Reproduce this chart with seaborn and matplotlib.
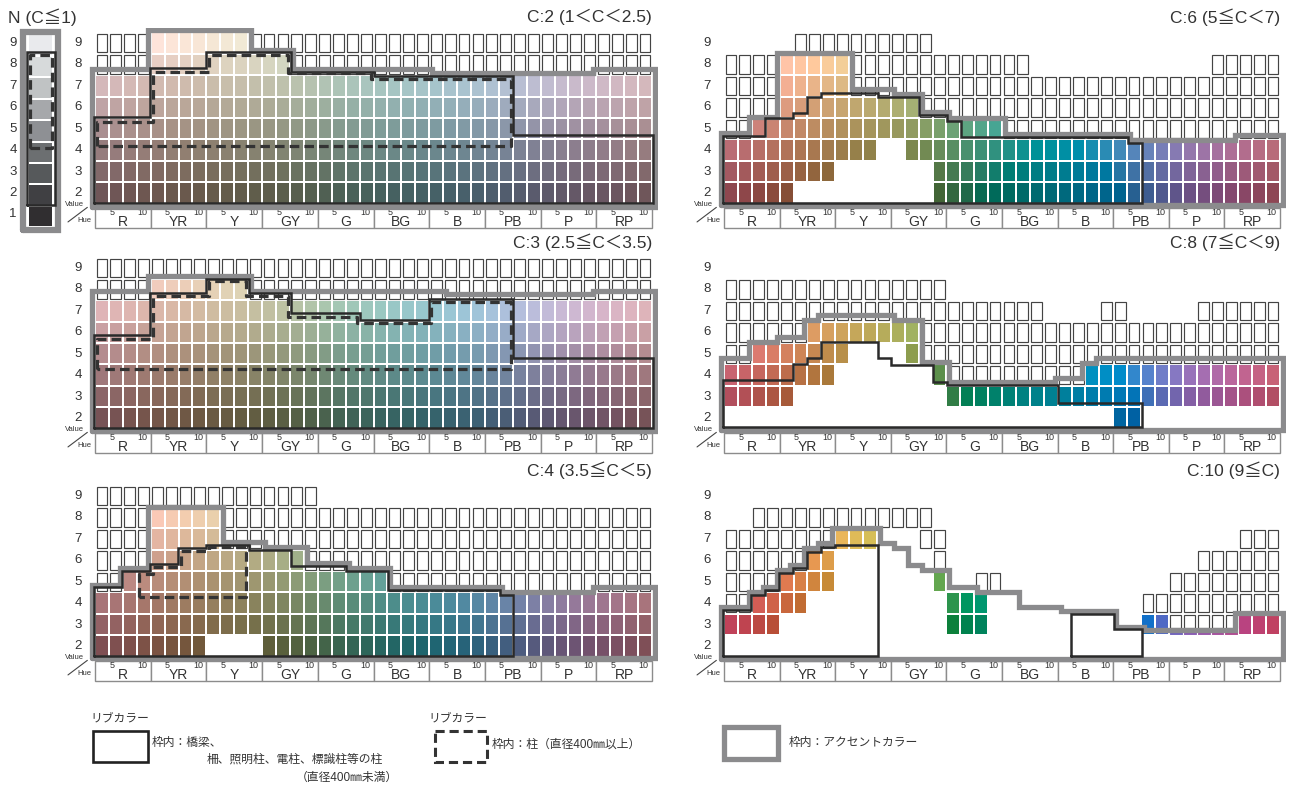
import numpy as np
import matplotlib
matplotlib.use("Agg")
import matplotlib.pyplot as plt
from matplotlib.colors import ListedColormap
from matplotlib.patches import Rectangle
import seaborn as sns

# ------------------------------
# DATA
# ------------------------------
HUES = ["R", "YR", "Y", "GY", "G", "BG", "B", "PB", "P", "RP"]
VALUES = [9, 8, 7, 6, 5, 4, 3, 2]
N_VALUES = [9, 8, 7, 6, 5, 4, 3, 2, 1]
N_COLORS = ["#e9eaed", "#d7dadb", "#c0c3c4", "#a6a8ab", "#8e9094",
            "#6c6f71", "#56595b", "#404043", "#302e30"]

# one string per value row (9 -> 2), one char per hue column (2.5R ... 10RP)
# c = colour chip, o = empty frame, h = chip partly hidden, . = nothing
C2_GRID = ["o" * 4 + "c" * 7 + "o" * 29,
           "o" * 4 + "c" * 10 + "o" * 26] + ["c" * 40] * 6
C3_GRID = ["o" * 40,
           "o" * 4 + "c" * 7 + "o" * 29] + ["c" * 40] * 6
C4_GRID = ["o" * 16 + "." * 24,
           "o" * 4 + "c" * 5 + "o" * 31,
           "o" * 4 + "c" * 5 + "o" * 31,
           "o" * 4 + "c" * 11 + "o" * 25,
           "o" * 2 + "c" * 19 + "o" * 19,
           "c" * 40,
           "c" * 40,
           "c" * 8 + "." * 4 + "c" * 28]
C6_GRID = ["." * 5 + "o" * 10 + "." * 25,
           "o" * 4 + "c" * 5 + "o" * 13 + "." * 13 + "o" * 5,
           "o" * 4 + "c" * 5 + "o" * 31,
           "o" * 4 + "c" * 10 + "o" * 26,
           "o" * 2 + "c" * 18 + "o" * 20,
           "c" * 11 + "." * 2 + "c" * 27,
           "c" * 8 + "." * 7 + "c" * 25,
           "c" * 5 + "." * 10 + "c" * 25]
C8_GRID = ["." * 40,
           "o" * 16 + "." * 24,
           "o" * 23 + "." * 4 + "oo" + "." * 5 + "o" * 6,
           "o" * 6 + "c" * 8 + "o" * 26,
           "oo" + "c" * 7 + "." * 4 + "c" + "o" * 26,
           "c" * 8 + "." * 7 + "c" + "o" * 10 + "c" * 14,
           "c" * 5 + "." * 11 + "c" * 24,
           "." * 28 + "cc" + "." * 10]
C10_GRID = ["." * 40,
            ".." + "o" * 13 + "." * 25,
            "o" * 8 + "c" * 3 + "." * 3 + "o" * 2 + "." * 21 + "o" * 3,
            "o" * 6 + "c" * 2 + "." * 7 + "o" + "." * 18 + "o" * 6,
            "o" * 4 + "c" * 4 + "." * 7 + "c" + ".." + "oo" + "." * 12 + "o" * 8,
            "oo" + "c" * 4 + "." * 10 + "c" * 3 + "." * 11 + "o" * 10,
            "c" * 4 + "." * 12 + "c" * 3 + "." * 11 + "cc" + "h" * 5 + "c" * 3,
            "." * 40]

NA = [np.nan]

# frame levels per hue column (Munsell value)
C2_ACCENT = [7.78] * 4 + [9.6] * 7 + [8.67] * 3 + [7.78] * 10 + [7.62] * 12 + [7.78] * 4
C2_SOLID = [5.55] * 4 + [7.83] * 4 + [8.57] * 6 + [7.65] * 6 + [7.48] * 10 + [4.7] * 10
C2_DASH = [5.31] * 4 + [7.65] * 4 + [8.44] * 6 + [7.62] * 6 + [7.32] * 10 + NA * 10

C3_ACCENT = [7.95] * 4 + [8.62] * 7 + [7.95] * 14 + [7.78] * 11 + [7.95] * 4
C3_SOLID = [5.87] * 4 + [7.82] * 4 + [8.5] * 3 + [7.82] * 3 + [6.92] * 5 + [6.57] * 5 + [7.54] * 6 + [4.79] * 10
C3_DASH = [5.69] * 4 + [7.7] * 4 + [8.4] * 3 + [7.7] * 3 + [6.73] * 5 + [6.42] * 5 + [7.43] * 6 + NA * 10

C4_ACCENT = [4.85] * 2 + [5.63] * 2 + [8.5] * 5 + [6.87] * 3 + [6.63] * 3 + [5.86] * 3 + [5.63] * 3 + [4.75] * 8 + [4.5] * 7 + [4.77] * 4
C4_SOLID = [4.74] * 2 + [5.51] * 2 + [5.83] * 2 + [6.56] * 2 + [6.71] * 3 + [6.48] * 3 + [5.73] * 4 + [5.51] * 3 + [4.62] * 8 + [4.4] + NA * 10
C4_DASH = NA * 3 + [5.36] + [5.67] * 2 + [6.45] * 2 + [6.63] * 3 + NA * 29

C6_ACCENT = [4.79] * 2 + [5.53] * 2 + [8.52] * 5 + [6.84] * 3 + [6.6] * 2 + [5.8] * 2 + [5.49] * 4 + [4.75] * 9 + [4.47] * 8 + [4.71] * 3
C6_SOLID = [4.66] * 3 + [5.49] * 2 + [5.72] + [6.47] + [6.65] * 4 + [6.47] * 3 + [5.64] * 2 + [5.37] + [4.62] * 12 + [4.32] + NA * 10

C8_ACCENT = [4.79] * 2 + [5.56] * 2 + [5.8] * 2 + [6.57] + [6.81] * 5 + [6.57] * 2 + [4.63] * 2 + [3.68] * 8 + [3.85] * 2 + [4.55] + [4.79] * 13
C8_SOLID = [3.77] * 5 + [4.52] + [4.79] + [5.56] * 4 + [4.79] + [4.47] * 3 + [3.7] + [3.55] * 8 + [2.72] * 6 + NA * 10

C10_ACCENT = ([3.82] * 2 + [4.53, 4.77, 5.55, 5.78, 6.56, 6.79] + [7.49] * 3 + [6.79, 6.56, 5.78]
              + [5.55] * 2 + [4.77] * 2 + [4.53] * 3 + [3.84] * 3 + [3.62] * 4 + [2.9] * 2 + [2.75] * 7 + [3.53] * 3)
C10_SOLID = [3.67] * 2 + [4.38, 4.62, 5.4, 5.63, 6.41, 6.64] + [6.71] * 3 + NA * 14 + [3.5] * 3 + [2.8] * 2 + NA * 10

ACCENT_BOTTOM = [1.35, 1.38, 1.42, 1.44, 1.42, 1.39]
SOLID_BOTTOM = [1.53, 1.52, 1.55, 1.52, 1.58, 1.53]
DASH_BOTTOM = [4.19, 4.27, 4.27]

TITLES = ["C:2 (1＜C＜2.5)", "C:3 (2.5≦C＜3.5)", "C:4 (3.5≦C＜5)",
          "C:6 (5≦C＜7)", "C:8 (7≦C＜9)", "C:10 (9≦C)"]
CHROMAS = [2, 3, 4, 6, 8, 10]

# ------------------------------
# STYLE
# ------------------------------
W, H = 1290, 787
RH = 21.43            # pixel height of one value row
ACCENT = dict(color="#8b8b8d", lw=3.8, solid_joinstyle="miter", zorder=4)
SOLID = dict(color="#2a2a2a", lw=1.8, solid_joinstyle="miter", zorder=5)
DASHED = dict(color="#333333", lw=2.3, ls=(0, (3.0, 1.6)), dash_capstyle="butt", zorder=6)
TXT = "#333333"
# Lab hue angle at Munsell hue number 0, 5, 10, ... 100 (10RP, 5R, 10R ...)
HUE_ANGLE = [10, 22, 40, 57, 73, 88, 100, 115, 135, 160, 178, 195, 210, 228,
             245, 268, 290, 312, 330, 350, 370]

sns.set_theme(style="white")
plt.rcParams['font.family'] = ['Liberation Sans', 'Noto Sans CJK JP']


def munsell_rgb(col, value, chroma):
    ang = np.radians(np.interp(2.5 * (col + 1), np.arange(0, 101, 5), HUE_ANGLE))
    L = 24 + 7.6 * value
    a, b = 5.4 * chroma * np.cos(ang), 5.4 * chroma * np.sin(ang)
    fy = (L + 16) / 116
    f = np.array([fy + a / 500, fy, fy - b / 200])
    t = np.where(f > 6 / 29, f ** 3, 3 * (6 / 29) ** 2 * (f - 4 / 29))
    xyz = t * np.array([0.95047, 1.0, 1.08883])
    m = np.array([[3.2406, -1.5372, -0.4986],
                  [-0.9689, 1.8758, 0.0415],
                  [0.0557, -0.2040, 1.0570]])
    rgb = np.clip(m @ xyz, 0, 1)
    rgb = np.where(rgb <= 0.0031308, 12.92 * rgb, 1.055 * rgb ** (1 / 2.4) - 0.055)
    return tuple(np.clip(rgb, 0, 1))


def outline(tops, bots, pad):
    # step outline round runs of columns; pad > 0 pulls the line inwards
    tops = np.asarray(tops, float)
    bots = np.broadcast_to(np.asarray(bots, float), tops.shape)
    ok = ~np.isnan(tops)
    out = []
    c = 0
    while c < len(tops):
        if not ok[c]:
            c += 1
            continue
        a = c
        while c + 1 < len(tops) and ok[c + 1]:
            c += 1
        b = c
        pts = [(a + pad, bots[a]), (a + pad, tops[a])]
        for i in range(a, b):
            t0, t1 = tops[i], tops[i + 1]
            if t1 != t0:
                xb = i + 1 + (pad if t1 > t0 else -pad)
                pts += [(xb, t0), (xb, t1)]
        pts += [(b + 1 - pad, tops[b]), (b + 1 - pad, bots[b])]
        for i in range(b - 1, a - 1, -1):
            b0, b1 = bots[i], bots[i + 1]
            if b1 != b0:
                xb = i + 1 + (pad if b1 < b0 else -pad)
                pts += [(xb, b1), (xb, b0)]
        pts.append(pts[0])
        out.append(np.array(pts))
        c += 1
    return out


def draw_lines(ax, tops, bots, pad, style):
    for seg in outline(tops, bots, pad):
        ax.plot(seg[:, 0], 9.5 - seg[:, 1], **style)


def px_axes(x, y, w, h):
    return fig.add_axes([x / W, 1 - (y + h) / H, w / W, h / H])


fig = plt.figure(figsize=(W / 100, H / 100), dpi=100)

# overlay in pixel units for titles and legend
ov = px_axes(0, 0, W, H)
ov.set_xlim(0, W)
ov.set_ylim(H, 0)
ov.axis('off')


def draw_panel(gx0, cw, y9, grid, chroma, accent, abot, solid, sbot, dash, dbot):
    ax = px_axes(gx0 - 0.4 * cw, y9 - 0.7 * RH, 40.8 * cw, 9.45 * RH)
    colors = []
    idx = np.zeros((8, 40))
    mask = np.ones((8, 40), bool)
    for r, row in enumerate(grid):
        for c, ch in enumerate(row):
            colors.append(munsell_rgb(c, VALUES[r], chroma))
            idx[r, c] = r * 40 + c
            mask[r, c] = ch != "c"
    sns.heatmap(idx, mask=mask, cmap=ListedColormap(colors), vmin=-0.5,
                vmax=len(colors) - 0.5, cbar=False, linewidths=1.3,
                linecolor="white", xticklabels=False, yticklabels=False, ax=ax)
    for r, row in enumerate(grid):
        v = VALUES[r]
        for c, ch in enumerate(row):
            if ch == "o":
                ax.add_patch(Rectangle((c + 0.11, 9.5 - v - 0.43), 0.78, 0.86,
                                       fc="white", ec="#444444", lw=0.85, zorder=2))
            elif ch == "h":
                ax.add_patch(Rectangle((c, 9.5 - v + 0.2), 1, 0.3,
                                       fc=colors[r * 40 + c], ec="white", lw=0.8, zorder=2))
                ax.add_patch(Rectangle((c + 0.11, 9.5 - v - 0.43), 0.78, 0.6,
                                       fc="white", ec="#444444", lw=0.85, zorder=2))
        ax.text(-1.2, r + 0.5, str(v), ha="center", va="center", fontsize=9.5, color=TXT)

    draw_lines(ax, accent, abot, -0.22, ACCENT)
    draw_lines(ax, solid, sbot, -0.05, SOLID)
    if dash is not None:
        draw_lines(ax, dash, dbot, 0.16, DASHED)

    # hue strip
    for h, name in enumerate(HUES):
        ax.add_patch(Rectangle((4 * h, 8.2), 4, 0.93, fc="white", ec="#8c8c8c",
                               lw=1.0, zorder=2, clip_on=False))
        ax.text(4 * h + 1.2, 8.42, "5", fontsize=6.5, ha="center", va="center", color=TXT)
        ax.text(4 * h + 2.0, 8.86, name, fontsize=10, ha="center", va="center", color=TXT)
        ax.text(4 * h + 3.4, 8.42, "10", fontsize=6.5, ha="center", va="center", color=TXT)
    ax.text(-1.5, 8.02, "Value", fontsize=5.5, ha="center", va="center", color=TXT)
    ax.text(-0.75, 8.78, "Hue", fontsize=5.5, ha="center", va="center", color=TXT)
    ax.plot([-1.94, -0.55], [8.85, 8.17], color="#444444", lw=0.8, clip_on=False)

    ax.set_xlim(-0.4, 40.4)
    ax.set_ylim(9.25, -0.2)
    ax.axis('off')
    return ax


grids = [C2_GRID, C3_GRID, C4_GRID, C6_GRID, C8_GRID, C10_GRID]
accents = [C2_ACCENT, C3_ACCENT, C4_ACCENT, C6_ACCENT, C8_ACCENT, C10_ACCENT]
solids = [C2_SOLID, C3_SOLID, C4_SOLID, C6_SOLID, C8_SOLID, C10_SOLID]
dashes = [C2_DASH, C3_DASH, C4_DASH, None, None, None]
row_y9 = [43, 268, 496]

for k in range(6):
    left = k < 3
    gx0, cw = (95, 13.925) if left else (724, 13.9)
    y9 = row_y9[k % 3]
    draw_panel(gx0, cw, y9, grids[k], CHROMAS[k], accents[k], ACCENT_BOTTOM[k],
               solids[k], SOLID_BOTTOM[k], dashes[k], DASH_BOTTOM[k] if left else None)
    ov.text(652 if left else 1280, y9 - 26, TITLES[k], ha="right", va="center",
            fontsize=12.5, color=TXT)

# ------------------------------
# N column
# ------------------------------
axn = px_axes(28.3 - 0.4 * 25, 43 - 0.7 * RH, 1.8 * 25, 9.6 * RH)
sns.heatmap(np.arange(9).reshape(9, 1), cmap=ListedColormap(N_COLORS), vmin=-0.5,
            vmax=8.5, cbar=False, linewidths=1.3, linecolor="white",
            xticklabels=False, yticklabels=False, ax=axn)
for r, v in enumerate(N_VALUES):
    ov.text(13, 43 + r * RH, str(v), ha="center", va="center", fontsize=9.5, color=TXT)
draw_lines(axn, [9.62], [0.36], -0.2, dict(ACCENT, lw=4.5))
draw_lines(axn, [8.67], [1.53], -0.05, SOLID)
draw_lines(axn, [8.53], [4.19], 0.06, DASHED)
axn.set_xlim(-0.4, 1.4)
axn.set_ylim(9.3, -0.3)
axn.axis('off')
ov.text(8, 17, "N (C≦1)", ha="left", va="center", fontsize=12.5, color=TXT)

# ------------------------------
# legend
# ------------------------------
ov.text(90, 718, "リブカラー", fontsize=8.5, ha="left", va="center", color=TXT)
ov.add_patch(Rectangle((93, 731), 55, 31, fc="white", ec="#222222", lw=1.9))
ov.text(152, 743, "枠内：橋梁、", fontsize=8.5, ha="left", va="center", color=TXT)
ov.text(207, 760, "柵、照明柱、電柱、標識柱等の柱", fontsize=8.5, ha="left", va="center", color=TXT)
ov.text(398, 778, "（直径400㎜未満）", fontsize=8.5, ha="right", va="center", color=TXT)

ov.text(428, 718, "リブカラー", fontsize=8.5, ha="left", va="center", color=TXT)
ov.add_patch(Rectangle((435, 731), 52, 31, fc="white", ec="#333333", lw=2.2,
                       ls=(0, (3.0, 1.6))))
ov.text(492, 745, "枠内：柱（直径400㎜以上）", fontsize=8.5, ha="left", va="center", color=TXT)

ov.add_patch(Rectangle((724, 727), 54, 32, fc="white", ec="#8b8b8d", lw=3.8))
ov.text(789, 743, "枠内：アクセントカラー", fontsize=8.5, ha="left", va="center", color=TXT)

fig.savefig("out.png", dpi=100)
